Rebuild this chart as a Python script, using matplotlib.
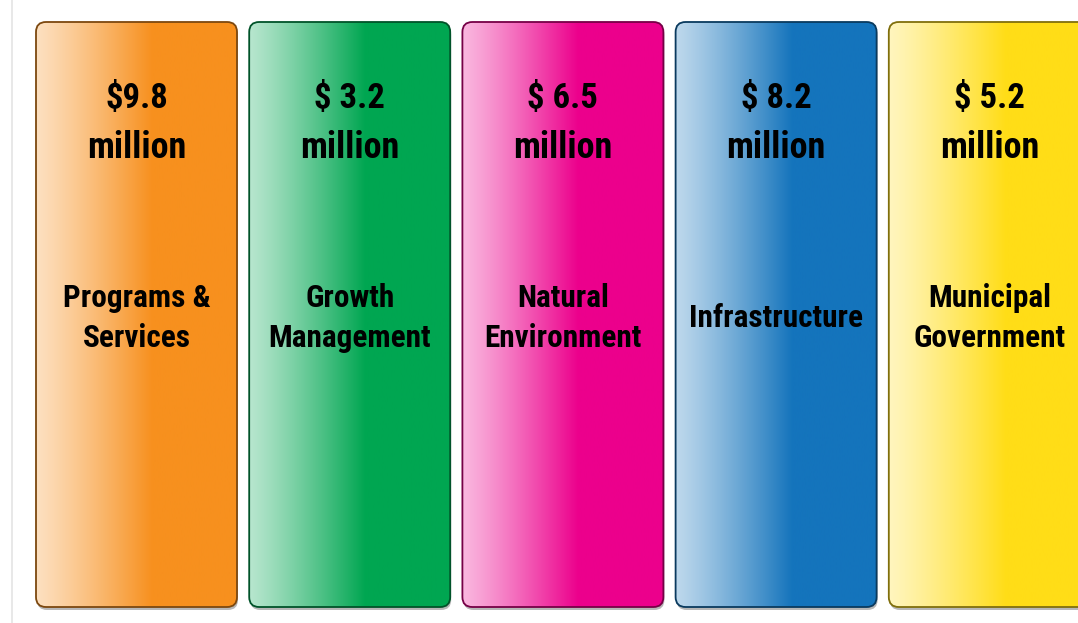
import numpy as np
import matplotlib.pyplot as plt
from matplotlib.patches import FancyBboxPatch
from matplotlib.colors import to_rgb
from matplotlib import font_manager

# budget areas and their allocations (millions of dollars)
categories = ["Programs &\nServices", "Growth\nManagement", "Natural\nEnvironment",
              "Infrastructure", "Municipal\nGovernment"]
amounts = [9.8, 3.2, 6.5, 8.2, 5.2]
dollar_sign = ["$", "$ ", "$ ", "$ ", "$ "]
colors = ["#F7901E", "#00A651", "#EC008C", "#1474BC", "#FFDD17"]

# pick a narrow face that has a bold weight
bold_names = {f.name for f in font_manager.fontManager.ttflist
              if isinstance(f.weight, int) and f.weight >= 700}
font = "Liberation Sans"
for cand in ["Liberation Sans Narrow", "Arial Narrow", "Roboto Condensed",
             "Archivo Narrow", "IBM Plex Sans Condensed", "Open Sans Condensed"]:
    if cand in bold_names:
        font = cand
        break

W, H = 1078, 623
fig = plt.figure(figsize=(W / 100, H / 100), dpi=100)
ax = fig.add_axes([0, 0, 1, 1])
ax.set_xlim(0, W)
ax.set_ylim(H, 0)
ax.axis("off")

# thin rule on the left
ax.plot([12, 12], [0, H], color="#e4e4e4", lw=1.2)

box_w, top, bottom = 201, 22, 607
step = 213.2
x0 = 36

def gradient(c):
    c = np.array(to_rgb(c))
    t = np.linspace(0, 1, 300)
    # pale tint on the left, full colour from a bit past the middle
    s = np.clip(t / 0.58, 0, 1) ** 1.15
    amount = 0.28 + 0.72 * s
    rows = (1 - amount)[:, None] + amount[:, None] * c
    return rows[None, :, :]

for i, (cat, amt, sign, col) in enumerate(zip(categories, amounts, dollar_sign, colors)):
    left = x0 + i * step
    dark = np.array(to_rgb(col)) * 0.5

    # drop shadow
    sh = FancyBboxPatch((left + 1, top + 3), box_w, bottom - top,
                        boxstyle="round,pad=0,rounding_size=10",
                        fc=(0.3, 0.3, 0.3, 0.4), ec="none", zorder=1)
    ax.add_patch(sh)

    patch = FancyBboxPatch((left, top), box_w, bottom - top,
                           boxstyle="round,pad=0,rounding_size=10",
                           fc="none", ec=dark, lw=1.3, zorder=3)
    ax.add_patch(patch)
    im = ax.imshow(gradient(col), extent=(left, left + box_w, bottom, top),
                   aspect="auto", zorder=2, interpolation="bilinear")
    im.set_clip_path(patch)

    cx = left + box_w / 2
    ax.text(cx, 99, f"{sign}{amt}", ha="center", va="center", fontsize=25,
            fontweight="bold", family=font, zorder=4)
    ax.text(cx, 148, "million", ha="center", va="center", fontsize=26,
            fontweight="bold", family=font, zorder=4)
    ax.text(cx, 318, cat, ha="center", va="center", fontsize=22.5,
            fontweight="bold", family=font, linespacing=1.38, zorder=4)

fig.savefig("out.png", dpi=100)
